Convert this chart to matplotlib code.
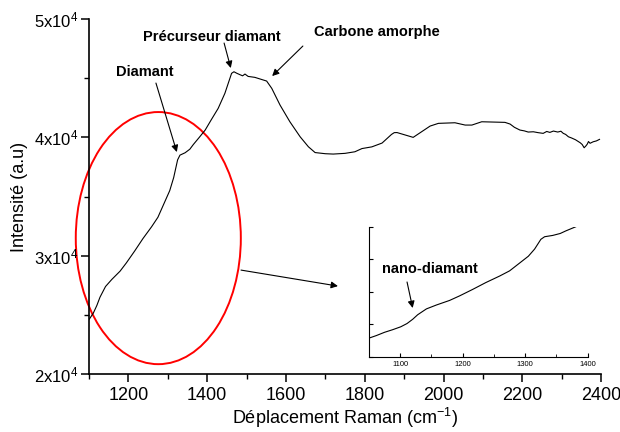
import numpy as np
import matplotlib
matplotlib.use("Agg")
import matplotlib.pyplot as plt
from matplotlib.patches import Ellipse

plt.rcParams['font.family'] = ['Liberation Sans', 'DejaVu Sans']
plt.rcParams['mathtext.fontset'] = 'custom'
plt.rcParams['mathtext.rm'] = 'Liberation Sans'
plt.rcParams['mathtext.it'] = 'Liberation Sans:italic'

# Raman spectrum
wavenumber = [1050, 1062, 1075, 1088, 1101, 1111, 1120, 1128, 1142, 1158, 1179, 1195,
              1216, 1237, 1259, 1275, 1291, 1305, 1315, 1325, 1331, 1344, 1356, 1365,
              1380, 1395, 1410, 1428, 1445, 1462, 1468, 1475, 1483, 1490, 1496, 1504,
              1521, 1551, 1564, 1585, 1610, 1636, 1657, 1674, 1700, 1720, 1750, 1775,
              1793, 1818, 1844, 1868, 1875, 1882, 1923, 1966, 1987, 2029, 2055, 2072,
              2097, 2156, 2169, 2180, 2194, 2205, 2215, 2228, 2240, 2253, 2262, 2270,
              2279, 2290, 2298, 2304, 2310, 2317, 2325, 2335, 2347, 2352, 2357, 2362,
              2365, 2368, 2372, 2380, 2388, 2396]
intensity = [22900, 23300, 23800, 24200, 24650, 25150, 25800, 26500, 27400, 28000, 28700, 29400,
             30400, 31450, 32450, 33250, 34450, 35500, 36600, 38100, 38500, 38700, 39000, 39400,
             40000, 40618, 41463, 42452, 43720, 45410, 45544, 45420, 45300, 45200, 45350, 45150,
             45071, 44759, 44142, 42731, 41320, 40052, 39207, 38717, 38620, 38590, 38650, 38784,
             39055, 39198, 39520, 40250, 40400, 40407, 40001, 40956, 41184, 41235, 41040, 41040,
             41319, 41268, 41125, 40850, 40618, 40550, 40450, 40474, 40400, 40339, 40500, 40420,
             40534, 40450, 40520, 40339, 40250, 40052, 39950, 39800, 39545, 39400, 39122, 39300,
             39435, 39650, 39500, 39629, 39700, 39832]

x_ticks = [1200, 1400, 1600, 1800, 2000, 2200, 2400]
y_ticks = [20000, 30000, 40000, 50000]
y_labels = ['2x10$^{4}$', '3x10$^{4}$', '4x10$^{4}$', '5x10$^{4}$']
inset_ticks = [1100, 1200, 1300, 1400]

fig = plt.figure(figsize=(6.2, 4.32), dpi=100)
ax = fig.add_axes([0.1435, 0.134, 0.826, 0.822])
ax.plot(wavenumber, intensity, color='black', lw=0.8)
ax.set_xlim(1100, 2400)
ax.set_ylim(20000, 50000)
ax.set_xticks(x_ticks)
ax.set_xticks(np.arange(1100, 2400, 100), minor=True)
ax.set_yticks(y_ticks)
ax.set_yticklabels(y_labels)
ax.set_yticks([25000, 35000, 45000], minor=True)
for s in ['top', 'right']:
    ax.spines[s].set_visible(False)
for s in ['left', 'bottom']:
    ax.spines[s].set_linewidth(1.2)
ax.tick_params(axis='x', which='major', length=6, width=1.1, labelsize=13, pad=3)
ax.tick_params(axis='y', which='major', length=6, width=1.1, labelsize=12, pad=2)
ax.tick_params(which='minor', length=3.5, width=1.0)
ax.set_xlabel('Déplacement Raman (cm$^{-1}$)', fontsize=13, labelpad=2)
ax.set_ylabel('Intensité (a.u)', fontsize=13, labelpad=4)

# annotations
arr = dict(arrowstyle='-|>', color='black', lw=0.8, mutation_scale=10, shrinkA=0, shrinkB=0)
ax.text(1241, 45519, 'Diamant', fontsize=10.5, fontweight='bold', ha='center', va='center')
ax.annotate('', xy=(1323, 38760), xytext=(1270, 44590), arrowprops=arr)
ax.text(1412, 48477, 'Précurseur diamant', fontsize=10.5, fontweight='bold', ha='center', va='center')
ax.annotate('', xy=(1460, 45857), xytext=(1443, 47970), arrowprops=arr)
ax.text(1830, 48900, 'Carbone amorphe', fontsize=10.5, fontweight='bold', ha='center', va='center')
ax.annotate('', xy=(1565, 45181), xytext=(1643, 47716), arrowprops=arr)

ell = Ellipse((1276, 31490), 419, 21300, fill=False, edgecolor='red', lw=1.4, clip_on=False)
ax.add_patch(ell)
ax.annotate('', xy=(1732, 27436), xytext=(1486, 28788), arrowprops=arr, annotation_clip=False)

# inset zoom
axi = fig.add_axes([0.595, 0.1736, 0.353, 0.301])
axi.plot(wavenumber, intensity, color='black', lw=0.8)
axi.set_xlim(1050, 1400)
axi.set_ylim(20000, 40000)
axi.set_xticks(inset_ticks)
axi.set_xticks([1150, 1250, 1350], minor=True)
axi.set_yticks([20000, 25000, 30000, 35000, 40000])
axi.set_yticklabels([])
for s in ['top', 'right']:
    axi.spines[s].set_visible(False)
axi.tick_params(direction='in', length=3, width=0.8, labelsize=5.5, pad=3)
axi.tick_params(which='minor', direction='in', length=2, width=0.6)
axi.patch.set_alpha(0)
axi.text(1148, 33538, 'nano-diamant', fontsize=10.5, fontweight='bold', ha='center', va='center')
axi.annotate('', xy=(1120, 27538), xytext=(1111, 31538), arrowprops=arr)

fig.savefig('out.png', dpi=100)
